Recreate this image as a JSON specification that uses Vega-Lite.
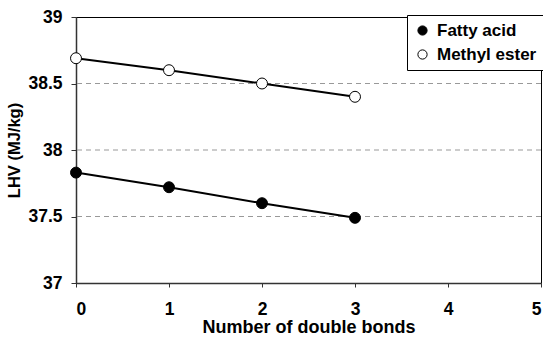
{
  "$schema": "https://vega.github.io/schema/vega-lite/v6.json",
  "autosize": "none",
  "width": 465,
  "height": 266,
  "padding": {"left": 76, "top": 17, "right": 2, "bottom": 56},
  "background": "white",
  "config": {
    "view": {"stroke": "black", "strokeWidth": 1},
    "font": "Liberation Sans"
  },
  "data": {
    "values": [
      {"bonds": 0, "lhv": 37.83, "series": "Fatty acid"},
      {"bonds": 1, "lhv": 37.72, "series": "Fatty acid"},
      {"bonds": 2, "lhv": 37.60, "series": "Fatty acid"},
      {"bonds": 3, "lhv": 37.49, "series": "Fatty acid"},
      {"bonds": 0, "lhv": 38.69, "series": "Methyl ester"},
      {"bonds": 1, "lhv": 38.60, "series": "Methyl ester"},
      {"bonds": 2, "lhv": 38.50, "series": "Methyl ester"},
      {"bonds": 3, "lhv": 38.40, "series": "Methyl ester"}
    ]
  },
  "encoding": {
    "x": {
      "field": "bonds", "type": "quantitative",
      "scale": {"domain": [0, 5], "nice": false, "zero": false},
      "axis": {
        "title": "Number of double bonds", "values": [0, 1, 2, 3, 4, 5],
        "grid": false, "domainColor": "#333", "domainWidth": 1.5,
        "tickColor": "#333", "tickSize": 4, "labelFontSize": 17.5, "labelFontWeight": "bold",
        "labelColor": "black", "labelPadding": 13, "titleFontSize": 18, "titleFontWeight": "bold",
        "titleColor": "black", "titlePadding": 1, "format": "d"
      }
    },
    "y": {
      "field": "lhv", "type": "quantitative",
      "scale": {"domain": [37, 39], "nice": false, "zero": false},
      "axis": {
        "title": "LHV (MJ/kg)", "values": [37, 37.5, 38, 38.5, 39],
        "labelExpr": "'' + datum.value",
        "grid": false, "domainColor": "#333", "domainWidth": 1.5,
        "tickColor": "#333", "tickSize": 5, "labelFontSize": 17.5, "labelFontWeight": "bold",
        "labelColor": "black", "labelPadding": 9, "titleFontSize": 16.5, "titleFontWeight": "bold",
        "titleColor": "black", "titlePadding": 5
      }
    }
  },
  "layer": [
    {
      "data": {"values": [{"g": 37.5}, {"g": 38}, {"g": 38.5}]},
      "mark": {"type": "rule", "stroke": "#999", "strokeDash": [5, 4], "strokeWidth": 1},
      "encoding": {"y": {"field": "g", "type": "quantitative"}, "x": null}
    },
    {
      "mark": {"type": "line", "color": "black", "strokeWidth": 2},
      "encoding": {"detail": {"field": "series"}}
    },
    {
      "mark": {"type": "point", "filled": true, "stroke": "black", "strokeWidth": 1, "size": 120, "opacity": 1},
      "encoding": {
        "fill": {
          "field": "series", "type": "nominal",
          "scale": {"domain": ["Fatty acid", "Methyl ester"], "range": ["black", "white"]},
          "legend": {
            "title": null, "orient": "none", "legendX": 331, "legendY": -2,
            "strokeColor": "black", "fillColor": "white", "padding": 7,
            "labelFont": "Liberation Sans", "labelFontSize": 17, "labelFontWeight": 700, "labelColor": "black",
            "symbolType": "circle", "symbolSize": 85, "symbolStrokeColor": "black",
            "symbolStrokeWidth": 1, "rowPadding": 6, "labelOffset": 6
          }
        }
      }
    }
  ]
}
